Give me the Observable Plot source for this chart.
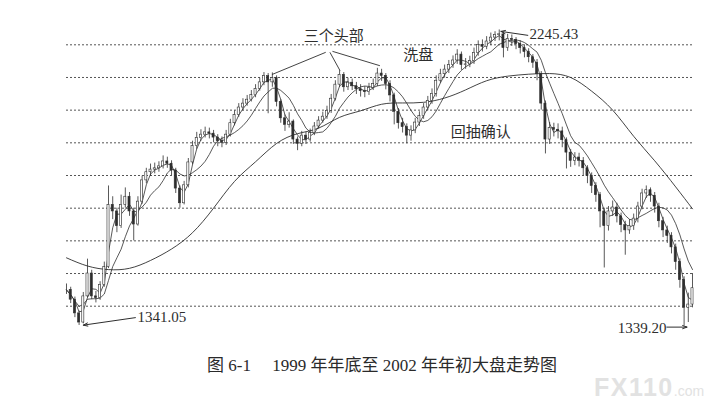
<!DOCTYPE html>
<html>
<head>
<meta charset="utf-8">
<script src="https://cdn.jsdelivr.net/npm/d3@7"></script>
<script src="https://cdn.jsdelivr.net/npm/@observablehq/plot@0.6"></script>
<style>
  body { margin: 0; background: #fff; }
  #wrap { position: relative; width: 718px; height: 418px; overflow: hidden; }
  #caption { position: absolute; left: 0; top: 351px; width: 764px; text-align: center;
    font-family: "Liberation Serif", "Noto Sans CJK SC", serif; font-size: 17px; color: #2a2a2a; white-space: pre; }
  #mark { position: absolute; left: 594px; top: 373px; color: #e2e2e2;
    font-family: "Liberation Sans", sans-serif; font-weight: bold; font-size: 25px; letter-spacing: 1.5px; }
  #mark span { font-size: 14px; font-weight: normal; letter-spacing: 0; }
</style>
</head>
<body>
<div id="wrap">
  <div id="chart"></div>
  <div id="caption">图 6-1　 1999 年年底至 2002 年年初大盘走势图</div>
  <div id="mark">FX110<span>.com</span></div>
</div>
<script>
const close = [1450,1420,1378,1350,1430,1500,1430,1425,1465,1520,
1710,1690,1645,1710,1735,1690,1650,1720,1785,1810,
1818,1822,1828,1843,1836,1815,1760,1715,1770,1840,
1890,1915,1925,1932,1928,1916,1905,1900,1925,1960,
1985,2008,2020,2032,2046,2065,2085,2104,2085,2098,
2025,1975,1955,1965,1910,1897,1922,1910,1930,1950,
1968,1980,1998,2035,2078,2108,2070,2084,2073,2064,
2058,2055,2068,2080,2112,2105,2080,2045,1995,1960,
1948,1922,1938,1962,1982,2008,2028,2050,2090,2110,
2124,2138,2152,2170,2138,2140,2150,2175,2200,2194,
2210,2222,2230,2232,2190,2218,2215,2202,2190,2178,
2162,2145,2110,2020,1910,1945,1940,1935,1908,1870,
1845,1855,1845,1822,1798,1768,1740,1690,1645,1690,
1702,1675,1648,1632,1645,1668,1705,1745,1755,1738,
1705,1660,1632,1615,1580,1535,1480,1395,1405,1455];

const high = [1468,1458,1428,1385,1442,1544,1510,1445,1475,1535,
1768,1735,1700,1740,1762,1748,1700,1735,1798,1822,
1835,1838,1842,1860,1856,1845,1822,1768,1782,1852,
1905,1932,1940,1948,1945,1938,1925,1918,1938,1972,
1998,2020,2035,2045,2060,2078,2098,2115,2112,2114,
2105,2032,1985,1992,1970,1918,1935,1932,1942,1962,
1980,1994,2012,2048,2090,2121,2115,2098,2095,2085,
2078,2072,2082,2095,2128,2125,2112,2090,2052,2005,
1975,1958,1952,1975,1995,2020,2042,2065,2105,2125,
2138,2152,2166,2185,2178,2158,2165,2190,2212,2215,
2225,2236,2240,2245.43,2238,2232,2230,2222,2212,2200,
2188,2170,2155,2118,2028,1962,1960,1958,1948,1915,
1880,1870,1868,1855,1830,1808,1778,1748,1700,1705,
1722,1715,1685,1660,1665,1682,1718,1758,1768,1762,
1748,1715,1672,1645,1625,1590,1545,1490,1440,1500];

const low = [1436,1408,1365,1341.05,1346,1425,1420,1410,1418,1458,
1515,1665,1625,1638,1700,1675,1600,1645,1712,1775,
1798,1805,1810,1820,1822,1800,1745,1700,1710,1762,
1832,1880,1905,1915,1912,1900,1888,1885,1892,1918,
1952,1978,1998,2012,2025,2038,2058,2075,1989,2070,
2010,1960,1935,1945,1895,1876,1888,1895,1902,1922,
1942,1960,1972,1990,2028,2070,2055,2060,2060,2048,
2040,2038,2045,2060,2072,2088,2062,2025,1955,1942,
1930,1897,1905,1928,1950,1972,1998,2018,2040,2082,
2098,2112,2128,2140,2122,2125,2130,2140,2165,2178,
2185,2198,2210,2212,2160,2180,2195,2185,2172,2160,
2145,2128,2090,2000,1866,1895,1918,1912,1885,1820,
1825,1830,1826,1800,1775,1745,1718,1640,1517,1630,
1675,1655,1625,1556,1620,1632,1655,1695,1730,1718,
1685,1640,1610,1592,1560,1510,1455,1339.2,1350,1395];

// long (annual) moving average, read at every 5th sample
const longIdx = [0,5,10,15,20,25,30,35,40,45,50,55,60,65,70,75,80,85,90,95,100,105,110,115,120,125,130,135,140,145,149];
const longVal = [1548,1523,1512,1516,1540,1575,1625,1700,1782,1842,1898,1928,1945,1978,1998,2018,2022,2024,2037,2062,2090,2104,2110,2112,2100,2058,2000,1920,1845,1765,1698];

const gridLevels = [1400,1500,1600,1700,1800,1900,2000,2100,2200];

// annotations (sample index, index level)
const noteText = ["三个头部", "洗盘", "回抽确认"];
const noteX = [63.6, 83.7, 98.6];
const noteY = [2225, 2167, 1934];

const numText = ["2245.43", "1341.05", "1339.20"];
const numX = [110.2, 16.9, 131.2];
const numY = [2231, 1366, 1334];

const headFromX = [61.7, 62.7, 63.3];
const headFromY = [2177, 2177, 2180];
const headToX = [48.9, 65.1, 74.6];
const headToY = [2109, 2121, 2136];

const arrFromX = [109.8, 16.4, 142.9];
const arrFromY = [2229, 1365, 1336];
const arrToX = [103.4, 4.0, 147.7];
const arrToY = [2241, 1342, 1336];

const ink = "#2e2e2e";
const font = "Liberation Serif, Noto Sans CJK SC, serif";

const bars = close.map((c, i) => ({i, o: i ? close[i - 1] : c, c, h: high[i], l: low[i]}));
const longMA = longIdx.map((i, k) => ({i, v: longVal[k]}));
const notes = noteText.map((t, k) => ({t, x: noteX[k], y: noteY[k]}));
const nums = numText.map((t, k) => ({t, x: numX[k], y: numY[k]}));
const heads = headFromX.map((x, k) => ({x1: x, y1: headFromY[k], x2: headToX[k], y2: headToY[k]}));
const arrows = arrFromX.map((x, k) => ({x1: x, y1: arrFromY[k], x2: arrToX[k], y2: arrToY[k]}));

const chart = Plot.plot({
  width: 718,
  height: 345,
  marginLeft: 66,
  marginRight: 26,
  marginTop: 0,
  marginBottom: 0,
  x: {domain: [0, close.length - 1], axis: null},
  y: {domain: [1400, 2200], range: [305.7, 44.3], axis: null},
  marks: [
    Plot.ruleY(gridLevels, {stroke: "#555", strokeWidth: 1, strokeDasharray: "2,2"}),
    Plot.line(longMA, {x: "i", y: "v", curve: "natural", stroke: ink, strokeWidth: 0.9}),
    Plot.line(bars, Plot.windowY({k: 8, anchor: "end", reduce: "mean"}, {x: "i", y: "c", stroke: ink, strokeWidth: 0.8})),
    Plot.line(bars, Plot.windowY({k: 3, anchor: "end", reduce: "mean"}, {x: "i", y: "c", stroke: ink, strokeWidth: 0.8})),
    Plot.ruleX(bars, {x: "i", y1: "l", y2: "h", stroke: ink, strokeWidth: 0.8}),
    Plot.rect(bars, {x1: d => d.i - 0.25, x2: d => d.i + 0.25, y1: "o", y2: "c",
      fill: d => d.c >= d.o ? "white" : ink, stroke: ink, strokeWidth: 0.6}),
    Plot.link(heads, {x1: "x1", y1: "y1", x2: "x2", y2: "y2", stroke: ink, strokeWidth: 0.9}),
    Plot.arrow(arrows, {x1: "x1", y1: "y1", x2: "x2", y2: "y2", stroke: ink, strokeWidth: 1, headLength: 7, headAngle: 40}),
    Plot.text(notes, {x: "x", y: "y", text: "t", fontSize: 15, fontFamily: font, fill: ink, textAnchor: "middle"}),
    Plot.text(nums, {x: "x", y: "y", text: "t", fontSize: 15, fontFamily: font, fill: ink, textAnchor: "start"})
  ]
});
document.getElementById("chart").appendChild(chart);
</script>
</body>
</html>
